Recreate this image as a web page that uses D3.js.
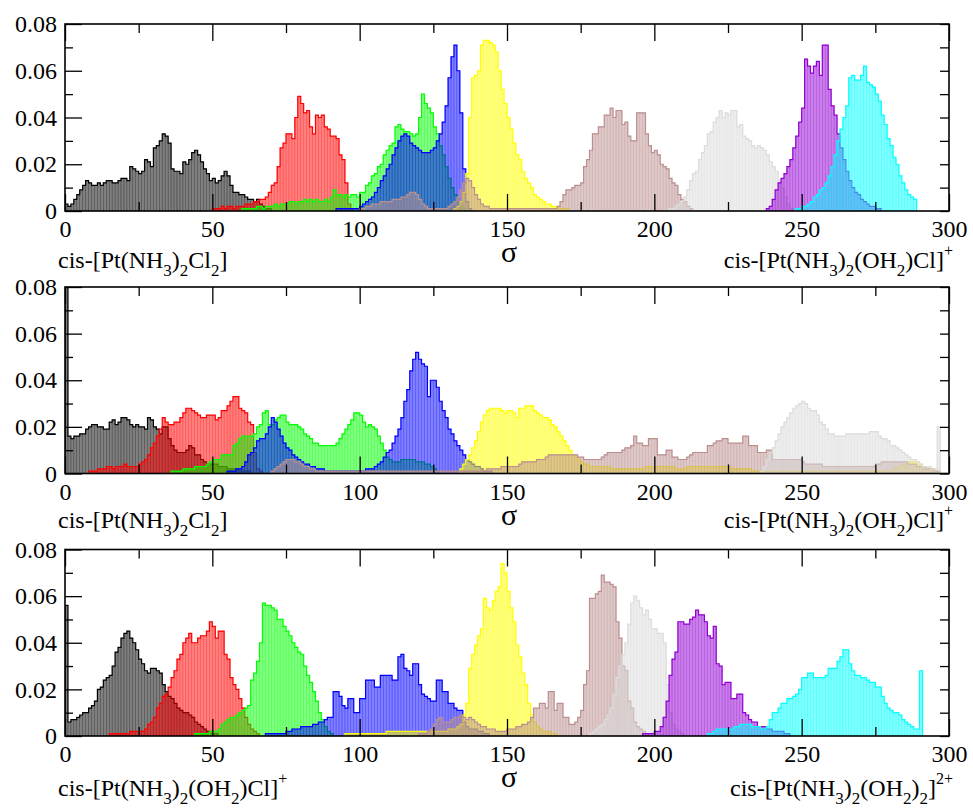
<!DOCTYPE html>
<html>
<head>
<meta charset="utf-8">
<script src="https://cdn.jsdelivr.net/npm/d3@7/dist/d3.min.js"></script>
<style>
  html, body { margin: 0; padding: 0; background: #ffffff; }
  svg { display: block; }
</style>
</head>
<body>
<div id="chart"></div>
<script>
// histogram heights, in units of 0.001, one value per unit bin of sigma
const UNIT = 0.001;

const series_names = ['black', 'red', 'green', 'blue', 'yellow', 'brown', 'grey', 'violet', 'cyan'];
const series_colors = ['#000000', '#ff0000', '#00ff00', '#0000ff', '#ffff00', '#bc8f8f', '#dcdcdc', '#9400d3', '#00ffff'];

// ---- top panel ----
const top_starts = [0, 50, 60, 92, 132, 100, 205, 238, 248];
const top_black = [3,2,3,5,7,9,11,13,12,11, 11,12,11,12,13,13,12,12,13,14, 14,13,19,18,17,16,17,22,21,19,
  27,28,30,33,32,29,18,17,17,16, 21,20,22,25,26,24,21,18,16,13, 14,12,13,15,17,15,11,8,8,7, 7,6,5,5,4,5,3,2,1,1];
const top_red = [1,1,1,2,1,2,2,1,2,2, 2,3,3,3,4,4,5,5,6,8, 11,12,19,27,29,33,33,31,40,49,
  46,42,43,36,33,41,40,41,36,35, 32,32,31,24,22,12,3,1];
const top_green = [1,1,1,1,1,2,2,1,2,2, 2,3,2,3,3,3,4,4,3,4, 4,5,4,5,4,5,4,4,5,4, 6,9,7,7,6,7,6,7,7,6,
  8,8,11,12,15,16,19,20,24,26, 28,29,36,37,35,34,34,33,32,33, 40,50,46,44,42,36,33,28,24,19, 14,10,7,4,2,1];
const top_blue = [1,1,1,1,1,1,1,1,2,3, 4,5,6,8,10,13,15,18,20,24, 27,30,32,33,32,29,28,27,26,25,
  25,25,26,27,30,33,38,45,57,66, 71,60,42,18,4,1];
const top_yellow = [1,2,4,8,16,40,57,58,60,71, 73,73,72,71,68,60,52,46,40,35, 29,24,22,17,14,12,10,7,6,5, 4,3,3,2,2,2,1,1,1];
const top_brown = [1,1,2,2,3,3,3,4,4,4, 4,5,5,5,6,6,7,8,8,7, 5,3,2,1,1,1,1,1,1,1, 2,3,4,6,9,12,14,13,10,7,
  5,3,2,2,1,1,1,1,1,1, 1,1,1,1,1,1,1,1,1,1, 1,1,1,1,1,1,1,2,4,7, 9,9,10,11,11,12,19,22,26,33,
  33,36,36,41,41,44,40,43,43,37, 38,32,30,30,42,42,42,33,28,25, 26,24,20,19,18,14,12,11,7,5, 4,2,1];
const top_grey = [1,1,2,3,4,6,9,13,16,17, 22,25,28,33,34,38,40,43,40,42, 41,43,43,36,37,32,31,30,28,27, 28,27,26,24,21,19,17,13,10,6,3,1];
const top_violet = [1,2,5,9,12,14,16,19,22,27, 32,38,44,65,62,59,62,64,58,71, 71,52,45,41,33,27,22,17,13,10, 8,7,5,4,3,2,2,1,1];
const top_cyan = [1,1,2,2,3,4,6,7,9,10, 12,15,19,24,30,35,40,45,57,58, 56,56,58,62,55,54,53,50,47,41, 37,31,28,23,20,15,12,9,7,6,5];

// ---- middle panel ----
const mid_starts = [0, 8, 36, 55, 134, 70, 236, 0, 0];
const mid_black = [80,16,15,16,16,17,17,19,20,21, 21,20,20,19,19,22,23,21,22,24, 24,23,21,20,21,20,20,19,24,23,
  20,19,17,20,20,15,12,10,9,9, 9,10,12,11,8,8,6,5,4,4, 4,4,3,3,3,2,2,2,2,1,1,1,1];
const mid_red = [1,1,1,2,2,2,3,3,2,3, 3,3,4,3,3,3,3,4,5,6, 8,11,13,16,19,24,22,21,21,22,
  22,24,26,28,28,27,26,25,24,24, 25,25,25,23,24,27,27,29,31,33, 33,28,27,26,22,21,9,2,1];
const mid_green = [1,1,1,1,2,2,2,2,3,3, 3,3,4,5,6,6,6,8,8,8, 8,12,13,15,16,16,16,16,17,20, 21,26,27,21,21,23,24,25,25,22,
  21,21,21,20,19,17,16,15,13,13, 12,12,12,12,12,12,13,15,17,19, 21,23,26,26,25,22,20,21,20,19,
  16,13,10,7,6,5,5,5,6,6, 6,6,6,5,5,5,4,4,3,2,1];
const mid_blue = [1,1,1,2,2,3,5,8,9,11, 14,15,15,17,20,24,22,19,16,13, 11,10,8,7,6,5,4,4,3,3, 2,2,2,1,1,1,1,1,1,1,
  1,1,1,1,1,1,1,2,2,2, 3,4,5,7,9,10,13,16,19,24, 31,36,44,49,52,49,47,46,33,40, 40,37,31,27,24,19,17,14,12,10,
  8,6,5,4,3,3,2,1,1,1];
const mid_yellow = [2,4,6,8,11,14,18,22,25,27, 28,28,28,28,27,26,27,27,26,24, 28,28,29,29,29,27,26,25,24,24,
  23,21,20,18,16,14,12,10,8,7, 6,5,4,4,3,3,3,
  3,3,3,3,2,2,2,2,2,2, 2,2,2,2,2,2,3,3,3,3,
  3,3,3,3,3,3,2,2,2,2, 3,3,3,3,3,3,3,3,3,3, 3,3,3,3,3,2,2,2,2,2, 2,2,1,1,1,
  1,1,1,1,1,1,1,1,1,1, 1,1,1,1,1,1,1,1,1,1, 1,1,1,1,1,1,1,1,1,1, 1,1,1,1,1,1,1,1,1,1, 1,1,1,1,1,
  2,3,3,4,4,5,5,5,4,4,3,3,2,2,1];
const mid_brown = [1,2,3,4,5,6,6,6,5,5,4,3,3,2,2,1,
  1,1,1,1,1,1,1,1,1,1, 1,1,1,1,1,1,1,1,1,1, 1,1,1,1,1,1,1,1,1,1, 1,1,1,1,1,1,1,1,1,1, 1,1,1,1,1,1,1,1,1,1, 1,1,1,1,
  1,1,1,2,2,2,2,2,3,3,3,3,3,3, 4,5,5,5,5,5,6,6,6,7, 8,8,8,8,8,8,8,8,8,8,7,7, 6,6,6,6,6,6,7,8,
  9,9,9,9,9,10,11,11,12,16, 13,13,12,12,15,15,15,8,8,8, 10,10,7,7,6,6,6,7,8,9, 9,9,9,9,12,12,13,14,14,15,
  15,13,13,13,13,13,16,16,12,12, 12,9,9,9,10,10,6,6,6,6, 6,6,6,6,6,6,5,4,4,4, 4,4,4,3,3,3,3,3,3,3,
  3,3,3,3,3,3,3,3,3,3,3,4, 4,5,5,5,5,5,5,5,5,5,4,4, 4,3,3,3,2,2,2,1,1];
const mid_grey = [1,3,6,9,11,14,17,20,22,24, 26,28,29,30,31,30,28,27,27,25, 22,21,19,17,17,16,16,16,16,17,
  17,17,17,17,17,17,17,18,18,18, 16,15,15,14,12,12,11,10,9,8, 7,6,6,5,4,3,3,3,2,2,20];
const mid_violet = [];
const mid_cyan = [];

// ---- bottom panel ----
const bot_starts = [0, 15, 44, 68, 95, 120, 178, 196, 218];
const bot_black = [56,6,7,7,8,9,10,10,12,13, 15,20,21,24,25,26,30,36,38,42, 44,45,42,40,37,33,31,28,27,29,
  29,28,27,22,19,17,16,14,12,11, 10,10,9,8,6,5,4,3,2,2,1,1];
const bot_red = [1,1,1,1,1,1,1,2,2,2, 2,2,3,5,6,8,12,14,17,18, 21,25,28,33,35,40,42,44,40,40,
  42,43,43,45,49,47,42,45,45,35, 33,25,22,20,16,12,8,5,3,2,1];
const bot_green = [1,1,1,1,1,2,2,2,3,5, 6,7,8,8,9,10,11,12,13,24, 27,32,40,57,56,56,55,54,50,50,
  47,45,43,40,38,36,35,30,26,23, 19,15,10,7,4,2,1];
const bot_blue = [1,1,1,1,1,1,1,2,2,3, 3,3,4,4,4,4,5,5,6,6, 7,8,8,19,19,17,13,12,16,16, 10,10,16,16,24,24,24,21,21,26,
  26,26,26,24,24,34,35,29,28,26, 31,31,22,18,17,16,15,15,24,24, 19,19,14,14,12,11,11,6,4,3, 3,3,2,2,1,1];
const bot_yellow = [1,1,1,1,1,1,1,1,1,1, 1,1,1,1,2,2,2,2,2,2, 2,2,2,2,2,2,2,2,2,2, 2,2,2,2,2,3,3,3,4,5,
  9,14,29,35,39,43,46,59,55,54, 58,62,64,74,70,62,55,49,39,34, 27,22,14,9,6,4,3,2,2,2,1,1];
const bot_brown = [1,1,1,2,3,5,7,8,6,6, 6,7,8,8,9,8,7,8,7,6, 5,4,4,3,3,3,2,2,2,2, 3,3,3,4,4,5,5,6,8,12,
  12,14,14,12,19,19,11,14,14,8, 8,5,5,6,8,11,22,28,59,59, 61,62,69,66,66,65,64,49,42,30, 28,15,12,6,4,3,2,1];
const bot_grey = [1,2,3,4,5,7,9,12,18,25, 30,35,40,48,57,60,58,55,52,54, 50,46,46,44,44,40,22,10,5,3,2,1];
const bot_violet = [1,1,1,1,2,2,4,8,15,26, 33,36,49,49,48,48,50,51,54,52, 52,49,43,42,47,31,30,22,23,23,
  16,16,18,18,10,9,7,6,6,4, 4,4,3,3,2,2,2,2,1,1];
const bot_cyan = [1,1,2,3,3,3,3,3,3,4, 4,5,5,5,5,4,4,4,3,3, 4,7,10,10,12,14,14,16,16,17, 18,20,25,25,27,27,25,25,25,25,
  26,29,29,29,32,34,37,37,31,28, 26,26,25,25,24,23,23,21,21,17, 14,12,11,10,10,9,7,6,5,4,3,3,28];

const x_ticks = [0, 50, 100, 150, 200, 250, 300];
const x_minor = [25, 75, 125, 175, 225, 275];
const y_ticks = [0, 0.02, 0.04, 0.06, 0.08];
const y_minor = [0.01, 0.03, 0.05, 0.07];

const lbl_cl2 = [['cis-[Pt(NH', ''], ['3', 'sub'], [')', ''], ['2', 'sub'], ['Cl', ''], ['2', 'sub'], [']', '']];
const lbl_aq1 = [['cis-[Pt(NH', ''], ['3', 'sub'], [')', ''], ['2', 'sub'], ['(OH', ''], ['2', 'sub'], [')Cl]', ''], ['+', 'sup']];
const lbl_aq2 = [['cis-[Pt(NH', ''], ['3', 'sub'], [')', ''], ['2', 'sub'], ['(OH', ''], ['2', 'sub'], [')', ''], ['2', 'sub'], [']', ''], ['2+', 'sup']];

const panels = [
    {top: 24, bottom: 211, starts: top_starts, label_dy: 57, left: lbl_cl2, right: lbl_aq1,
     values: [top_black, top_red, top_green, top_blue, top_yellow, top_brown, top_grey, top_violet, top_cyan]},
    {top: 287, bottom: 473.5, starts: mid_starts, label_dy: 54, left: lbl_cl2, right: lbl_aq1,
     values: [mid_black, mid_red, mid_green, mid_blue, mid_yellow, mid_brown, mid_grey, mid_violet, mid_cyan]},
    {top: 549.5, bottom: 736, starts: bot_starts, label_dy: 60, left: lbl_aq1, right: lbl_aq2,
     values: [bot_black, bot_red, bot_green, bot_blue, bot_yellow, bot_brown, bot_grey, bot_violet, bot_cyan]}
];

const width = 973, height = 808;
const font = '"Liberation Serif", "Times New Roman", Times, serif';

let svg = d3.select('#chart').append('svg')
    .attr('width', width)
    .attr('height', height)
    .style('font-family', font);

svg.append('rect').attr('width', width).attr('height', height).attr('fill', '#ffffff');

let x = d3.scaleLinear().domain([0, 300]).range([65, 949]);

let add_label = function(parent, parts, xpos, ypos, anchor) {
    let t = parent.append('text')
        .attr('x', xpos)
        .attr('y', ypos)
        .style('font-family', font)
        .attr('font-size', 24)
        .attr('text-anchor', anchor)
        .attr('fill', '#000000');
    let shift = 0;
    parts.forEach(function([s, kind]) {
        let target = kind === 'sub' ? 8 : (kind === 'sup' ? -12 : 0);
        t.append('tspan')
            .attr('dy', target - shift)
            .attr('font-size', kind === '' ? 24 : (kind === 'sub' ? 17 : 16))
            .text(s);
        shift = target;
    });
};

panels.forEach(function(p, i) {
    let y = d3.scaleLinear().domain([0, 0.08]).range([p.bottom, p.top]);

    svg.append('clipPath').attr('id', 'clip' + i)
        .append('rect')
        .attr('x', x(0)).attr('y', p.top)
        .attr('width', x(300) - x(0)).attr('height', p.bottom - p.top);

    let g = svg.append('g').attr('clip-path', 'url(#clip' + i + ')');

    series_names.forEach(function(name, k) {
        const color = series_colors[k];
        const start = p.starts[k];
        const bins = p.values[k].map((v, j) => ({s: start + j, v: v * UNIT}));
        if (bins.length === 0) return;

        let sg = g.append('g').attr('class', 'series-' + name);

        sg.selectAll('rect')
            .data(bins)
            .enter().append('rect')
            .attr('x', (d) => x(d.s))
            .attr('width', (d) => x(d.s + 1) - x(d.s))
            .attr('y', (d) => y(d.v))
            .attr('height', (d) => y(0) - y(d.v))
            .attr('fill', color)
            .attr('fill-opacity', 0.5)
            .attr('stroke', color)
            .attr('stroke-opacity', 0.35)
            .attr('stroke-width', 0.5);

        let pts = [[start, 0]];
        bins.forEach(function(d) {
            pts.push([d.s, d.v]);
            pts.push([d.s + 1, d.v]);
        });
        pts.push([start + bins.length, 0]);

        sg.append('path').datum(pts)
            .attr('fill', 'none')
            .attr('stroke', color)
            .attr('stroke-width', 1.2)
            .attr('d', d3.line().x((d) => x(d[0])).y((d) => y(d[1])));
    });

    // axes, ticks pointing inwards
    let ax = svg.append('g');

    ax.append('g')
        .attr('transform', 'translate(0,' + p.bottom + ')')
        .call(d3.axisBottom(x).tickValues(x_ticks).tickSize(-17).tickPadding(9).tickFormat(d3.format('d')));
    ax.append('g')
        .attr('transform', 'translate(0,' + p.bottom + ')')
        .call(d3.axisBottom(x).tickValues(x_minor).tickSize(-9).tickFormat(''));
    ax.append('g')
        .attr('transform', 'translate(0,' + p.top + ')')
        .call(d3.axisTop(x).tickValues(x_ticks).tickSize(-17).tickFormat(''));
    ax.append('g')
        .attr('transform', 'translate(0,' + p.top + ')')
        .call(d3.axisTop(x).tickValues(x_minor).tickSize(-9).tickFormat(''));
    ax.append('g')
        .attr('transform', 'translate(' + x(0) + ',0)')
        .call(d3.axisLeft(y).tickValues(y_ticks).tickSize(-17).tickPadding(8)
            .tickFormat((d) => d === 0 ? '0' : d.toFixed(2)));
    ax.append('g')
        .attr('transform', 'translate(' + x(0) + ',0)')
        .call(d3.axisLeft(y).tickValues(y_minor).tickSize(-8).tickFormat(''));
    ax.append('g')
        .attr('transform', 'translate(' + x(300) + ',0)')
        .call(d3.axisRight(y).tickValues(y_ticks.concat(y_minor)).tickSize(-9).tickFormat(''));

    ax.selectAll('.domain').remove();
    ax.selectAll('.tick line').attr('stroke', '#000000').attr('stroke-width', 1.3);
    ax.selectAll('.tick text')
        .attr('fill', '#000000')
        .style('font-family', font)
        .style('font-size', '24px');

    svg.append('rect')
        .attr('x', x(0)).attr('y', p.top)
        .attr('width', x(300) - x(0)).attr('height', p.bottom - p.top)
        .attr('fill', 'none')
        .attr('stroke', '#000000')
        .attr('stroke-width', 1.6);

    svg.append('text')
        .attr('x', x(150) + 2)
        .attr('y', p.bottom + 51)
        .attr('text-anchor', 'middle')
        .style('font-family', font)
        .attr('font-size', 30)
        .attr('fill', '#000000')
        .text('σ');

    add_label(svg, p.left, 58, p.bottom + p.label_dy, 'start');
    add_label(svg, p.right, 953, p.bottom + p.label_dy, 'end');
});
</script>
</body>
</html>
